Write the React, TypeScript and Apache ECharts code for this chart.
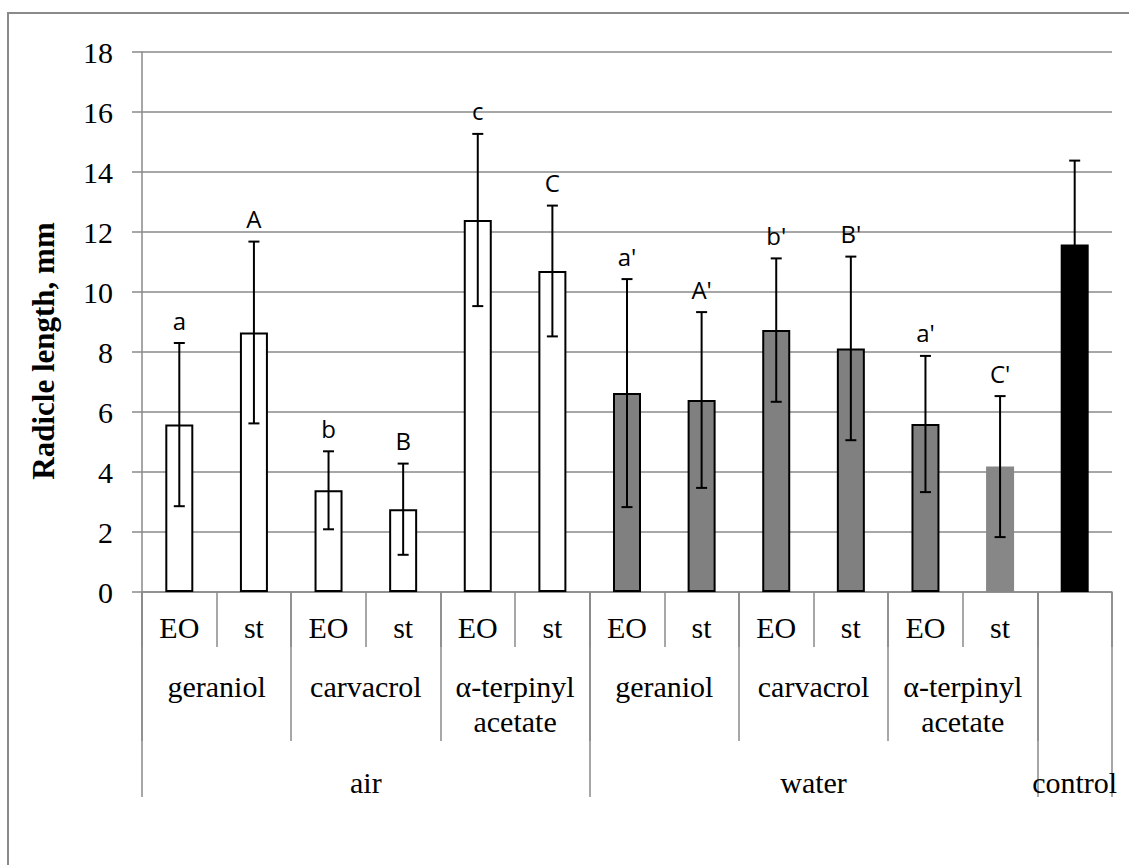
import React, { useEffect, useRef } from "react";
import * as echarts from "echarts";

// ---- data ----
const treatments = ["EO", "st", "EO", "st", "EO", "st", "EO", "st", "EO", "st", "EO", "st", ""];
const compounds = ["geraniol", "carvacrol", "α-terpinyl\nacetate", "geraniol", "carvacrol", "α-terpinyl\nacetate"];
const media = ["air", "water", "control"];
const mediaSpans = [6, 6, 1]; // number of treatment bars under each medium
const means = [5.58, 8.65, 3.39, 2.76, 12.4, 10.7, 6.63, 6.4, 8.73, 8.12, 5.6, 4.18, 11.58];
const sds = [2.72, 3.03, 1.3, 1.52, 2.87, 2.18, 3.8, 2.93, 2.39, 3.06, 2.27, 2.35, 2.8];
const letters = ["a", "A", "b", "B", "c", "C", "a'", "A'", "b'", "B'", "a'", "C'", ""];
const barKinds = ["air", "air", "air", "air", "air", "air", "water", "water", "water", "water", "water", "waterLight", "control"];
const yMin = 0;
const yMax = 18;
const yStep = 2;

const GRAY = "#8a8a8a";
const SERIF = "Liberation Serif";
const SANS = "Open Sans";

const kindStyle: Record<string, any> = {
  air: { color: "#ffffff", borderColor: "#000000", borderWidth: 2 },
  water: { color: "#808080", borderColor: "#000000", borderWidth: 2 },
  waterLight: { color: "#878787", borderWidth: 0 },
  control: { color: "#000000", borderWidth: 0 },
};

export default function App() {
  const ref = useRef<HTMLDivElement>(null);

  useEffect(() => {
    if (!ref.current) return;
    const chart = echarts.init(ref.current, null, { renderer: "svg" });

    const nSlots = treatments.length * 2 + 1; // half-unit slots
    const compoundAxis = Array.from({ length: nSlots }, (_, s) =>
      s % 4 === 2 && (s - 2) / 4 < compounds.length ? compounds[(s - 2) / 4] : ""
    );
    const mediaAxis = Array.from({ length: nSlots }, () => "");
    const mediaBounds: number[] = [0];
    let start = 0;
    mediaSpans.forEach((span, k) => {
      mediaAxis[start * 2 + span] = media[k];
      start += span;
      mediaBounds.push(start * 2);
    });
    const compoundEnd = compounds.length * 4;

    const barData = means.map((m, i) => ({ value: m, itemStyle: kindStyle[barKinds[i]] }));
    const errData = means.map((m, i) => [i, m - sds[i], m + sds[i]]);

    const serifLabel = { fontFamily: SERIF, fontSize: 30, color: "#000" };

    const option: any = {
      animation: false,
      textStyle: { fontFamily: SERIF },
      grid: { left: 142, right: 17, top: 52, bottom: 273, containLabel: false },
      graphic: [
        {
          type: "rect",
          shape: { x: 8, y: 13, width: 1300, height: 1000 },
          style: { fill: "none", stroke: GRAY, lineWidth: 2 },
          silent: true,
        },
        {
          type: "text",
          x: 43,
          y: 351,
          rotation: Math.PI / 2,
          style: {
            text: "Radicle length, mm",
            fontFamily: SERIF,
            fontSize: 31,
            fontWeight: "bold",
            fill: "#000",
            align: "center",
            verticalAlign: "middle",
          },
        },
      ],
      xAxis: [
        {
          type: "category",
          data: treatments,
          boundaryGap: true,
          position: "bottom",
          axisLine: { show: true, lineStyle: { color: GRAY, width: 1.5 } },
          axisTick: { show: true, interval: 0, length: 55, lineStyle: { color: GRAY, width: 1.5 } },
          axisLabel: { interval: 0, margin: 20, ...serifLabel },
          splitLine: { show: false },
        },
        {
          type: "category",
          data: compoundAxis,
          boundaryGap: false,
          position: "bottom",
          axisLine: { show: false },
          axisTick: {
            show: true,
            interval: (i: number) => i % 4 === 0 && i <= compoundEnd,
            length: 149,
            lineStyle: { color: GRAY, width: 1.5 },
          },
          axisLabel: { interval: 0, margin: 77, lineHeight: 35, ...serifLabel },
          splitLine: { show: false },
        },
        {
          type: "category",
          data: mediaAxis,
          boundaryGap: false,
          position: "bottom",
          axisLine: { show: false },
          axisTick: {
            show: true,
            interval: (i: number) => mediaBounds.includes(i),
            length: 205,
            lineStyle: { color: GRAY, width: 1.5 },
          },
          axisLabel: { interval: 0, margin: 175, ...serifLabel },
          splitLine: { show: false },
        },
      ],
      yAxis: {
        type: "value",
        min: yMin,
        max: yMax,
        interval: yStep,
        axisLine: { show: true, lineStyle: { color: GRAY, width: 1.5 } },
        axisTick: { show: true, inside: false, length: 10, lineStyle: { color: GRAY, width: 1.5 } },
        axisLabel: { margin: 29, ...serifLabel },
        splitLine: { show: true, lineStyle: { color: GRAY, width: 1.5 } },
      },
      series: [
        {
          type: "bar",
          xAxisIndex: 0,
          data: barData,
          barWidth: 28,
          z: 2,
        },
        {
          type: "custom",
          xAxisIndex: 0,
          data: errData,
          encode: { x: 0, y: [1, 2] },
          z: 3,
          renderItem: (params: any, api: any) => {
            const x = api.value(0);
            const lo = api.coord([x, api.value(1)]);
            const hi = api.coord([x, api.value(2)]);
            const cap = 5.5;
            const ls = { stroke: "#000", lineWidth: 2 };
            return {
              type: "group",
              children: [
                { type: "line", shape: { x1: hi[0], y1: hi[1], x2: lo[0], y2: lo[1] }, style: ls },
                { type: "line", shape: { x1: hi[0] - cap, y1: hi[1], x2: hi[0] + cap, y2: hi[1] }, style: ls },
                { type: "line", shape: { x1: lo[0] - cap, y1: lo[1], x2: lo[0] + cap, y2: lo[1] }, style: ls },
                {
                  type: "text",
                  x: hi[0],
                  y: hi[1] - 23,
                  style: {
                    text: letters[params.dataIndex],
                    fontFamily: SANS,
                    fontSize: 24,
                    fill: "#000",
                    align: "center",
                    verticalAlign: "middle",
                  },
                },
              ],
            };
          },
        },
      ],
    };

    chart.setOption(option);
    return () => chart.dispose();
  }, []);

  return (
    <div
      ref={ref}
      style={{ position: "absolute", left: 0, top: 0, width: 1129, height: 865, background: "#fff" }}
    />
  );
}
